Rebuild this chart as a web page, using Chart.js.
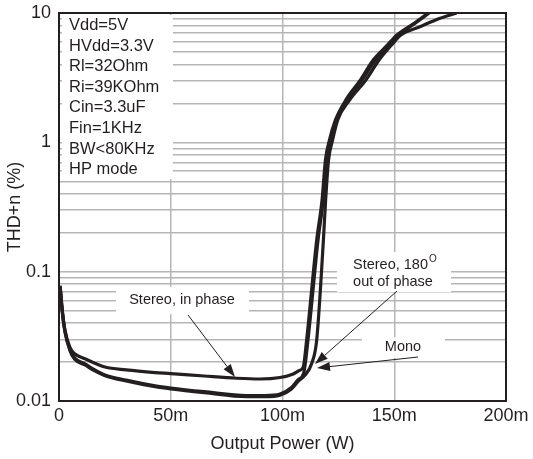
<!DOCTYPE html>
<html>
<head>
<meta charset="utf-8">
<script src="https://cdn.jsdelivr.net/npm/chart.js@4/dist/chart.umd.min.js"></script>
<style>
  html, body { margin: 0; padding: 0; background: #ffffff; }
  #wrap { width: 533px; height: 459px; }
</style>
</head>
<body>
<div id="wrap"><canvas id="thd"></canvas></div>
<script>
// output power in mW, THD+n in %
const powerInPhase = [0.5, 1.5, 2.7, 4.9, 7, 11.6, 16, 20.6, 30, 43, 50, 65, 79.5, 90, 98.9, 104.8, 107.5, 109.3, 110.8, 115.3, 117.7, 119.2, 121, 123.7, 128.3, 134.8, 140.6, 147, 151.2, 158.4, 165.2];
const thdInPhase   = [0.078, 0.05, 0.035, 0.026, 0.0232, 0.0212, 0.0196, 0.0183, 0.0174, 0.0166, 0.0163, 0.0156, 0.015, 0.0148, 0.0152, 0.0162, 0.0172, 0.0184, 0.0296, 0.1756, 0.358, 0.729, 1.04, 1.49, 2.12, 3.03, 4.33, 5.66, 6.76, 8.22, 10];

const powerOutPhase = [0.5, 1.5, 2.7, 4.9, 7, 11.6, 16, 20.6, 30, 43, 50, 65, 84, 92, 98.9, 104, 107, 110, 113.1, 115.3, 118.3, 119.3, 120.6, 122.4, 124.7, 130, 137.3, 143.2, 148.8, 153, 161.5, 170.5, 177.9];
const thdOutPhase   = [0.076, 0.048, 0.034, 0.0245, 0.021, 0.019, 0.0171, 0.0157, 0.0143, 0.0129, 0.0124, 0.0116, 0.0108, 0.0108, 0.0111, 0.0124, 0.0142, 0.0158, 0.0196, 0.0296, 0.1756, 0.358, 0.729, 1.04, 1.49, 2.12, 3.03, 4.33, 5.66, 6.76, 7.83, 9.1, 10];

const powerMono = [0.5, 1.5, 2.7, 4.9, 7, 11.6, 16, 20.6, 30, 43, 50, 65, 84, 92, 98.9, 104, 107, 109.5, 111.4, 115.9, 118.2, 119.6, 121.5, 124, 129, 135.6, 141.6, 147.8, 152, 158.9, 165.6];
const thdMono   = [0.077, 0.049, 0.0345, 0.025, 0.0215, 0.0194, 0.0174, 0.0159, 0.0145, 0.0131, 0.0126, 0.0118, 0.011, 0.011, 0.0113, 0.0127, 0.0146, 0.0165, 0.0296, 0.1756, 0.358, 0.729, 1.04, 1.49, 2.12, 3.03, 4.33, 5.66, 6.76, 8.22, 10];

const seriesNames = ['Stereo, in phase', 'Stereo, 180 out of phase', 'Mono'];
const xTickLabels = ['0', '50m', '100m', '150m', '200m'];
const yTickLabels = ['0.01', '0.1', '1', '10'];
const conditions = ['Vdd=5V', 'HVdd=3.3V', 'Rl=32Ohm', 'Ri=39KOhm', 'Cin=3.3uF', 'Fin=1KHz', 'BW<80KHz', 'HP mode'];

const ink = '#231f20';
const FONT = '"Liberation Sans", Arial, sans-serif';

// minor log grid: 1..9 in each decade
const yGrid = [];
[0.01, 0.1, 1].forEach(d => { for (let k = 1; k <= 9; k++) yGrid.push(+(d * k).toPrecision(3)); });
yGrid.push(10);

function pts(xs, ys) { return xs.map((x, i) => ({ x: x, y: ys[i] })); }

function arrow(ctx, x1, y1, x2, y2) {
  const a = Math.atan2(y2 - y1, x2 - x1);
  const len = 13, w = 4.5;
  ctx.beginPath();
  ctx.moveTo(x1, y1);
  ctx.lineTo(x2 - Math.cos(a) * len, y2 - Math.sin(a) * len);
  ctx.lineWidth = 1;
  ctx.strokeStyle = ink;
  ctx.stroke();
  ctx.beginPath();
  ctx.moveTo(x2, y2);
  ctx.lineTo(x2 - Math.cos(a) * len - Math.sin(a) * w, y2 - Math.sin(a) * len + Math.cos(a) * w);
  ctx.lineTo(x2 - Math.cos(a) * len + Math.sin(a) * w, y2 - Math.sin(a) * len - Math.cos(a) * w);
  ctx.closePath();
  ctx.fillStyle = ink;
  ctx.fill();
}

const notes = {
  id: 'notes',
  beforeDatasetsDraw(chart) {
    const ctx = chart.ctx;
    ctx.save();
    ctx.fillStyle = '#ffffff';
    ctx.fillRect(62, 15, 111, 164);   // conditions box
    ctx.fillRect(116, 287, 133, 27);  // in phase label
    ctx.fillRect(337, 252, 114, 40);  // out of phase label
    ctx.fillRect(362, 337, 83, 21);   // mono label

    ctx.fillStyle = ink;
    ctx.textBaseline = 'middle';
    ctx.textAlign = 'left';
    ctx.font = '16.5px ' + FONT;
    conditions.forEach((t, i) => ctx.fillText(t, 69, 25.5 + i * 20.6));

    ctx.font = '14.5px ' + FONT;
    ctx.textAlign = 'center';
    ctx.fillText(seriesNames[0], 182, 300);
    ctx.fillText('out of phase', 393, 282);
    ctx.fillText(seriesNames[2], 403, 347);
    ctx.textAlign = 'left';
    const head = 'Stereo, 180';
    ctx.fillText(head, 353, 265);
    const w = ctx.measureText(head).width;
    ctx.font = '10px ' + FONT;
    ctx.fillText('O', 353 + w + 1, 259);
    ctx.restore();
  },
  afterDatasetsDraw(chart) {
    const ctx = chart.ctx;
    const a = chart.chartArea;
    ctx.save();
    arrow(ctx, 188, 315, 235, 377);
    arrow(ctx, 397, 291, 315, 364);
    arrow(ctx, 418, 357, 317, 368);
    ctx.strokeStyle = ink;
    ctx.lineWidth = 2;
    ctx.strokeRect(a.left, a.top, a.right - a.left, a.bottom - a.top);
    ctx.restore();
  }
};

const lineStyle = { borderColor: ink, borderWidth: 3.2, pointRadius: 0, fill: false, cubicInterpolationMode: 'monotone' };

new Chart(document.getElementById('thd'), {
  type: 'line',
  data: {
    datasets: [
      Object.assign({ label: seriesNames[0], data: pts(powerInPhase, thdInPhase) }, lineStyle),
      Object.assign({ label: seriesNames[1], data: pts(powerOutPhase, thdOutPhase) }, lineStyle),
      Object.assign({ label: seriesNames[2], data: pts(powerMono, thdMono) }, lineStyle)
    ]
  },
  options: {
    responsive: true,
    maintainAspectRatio: false,
    animation: false,
    layout: { padding: { top: 13, right: 27, left: 0, bottom: 0 } },
    plugins: { legend: { display: false }, tooltip: { enabled: false } },
    scales: {
      x: {
        type: 'linear',
        min: 0,
        max: 200,
        afterFit(s) { s.height = 58; s.paddingLeft = 0; s.paddingRight = 0; },
        grid: { color: '#b5b5b5', lineWidth: 1.5, tickLength: 0, drawTicks: false },
        border: { display: true, color: ink, width: 2 },
        ticks: {
          stepSize: 50,
          padding: 4,
          color: ink,
          font: { family: FONT, size: 18 },
          callback: (v) => xTickLabels[v / 50]
        },
        title: {
          display: true,
          text: 'Output Power (W)',
          color: ink,
          font: { family: FONT, size: 18 },
          padding: { top: 4 }
        }
      },
      y: {
        type: 'logarithmic',
        min: 0.01,
        max: 10,
        afterFit(s) { s.width = 59; s.paddingTop = 0; s.paddingBottom = 0; },
        afterBuildTicks(s) { s.ticks = yGrid.map(v => ({ value: v })); },
        grid: { color: '#b5b5b5', lineWidth: 1.5, drawTicks: false },
        border: { display: true, color: ink, width: 2 },
        ticks: {
          autoSkip: false,
          padding: 8,
          color: ink,
          font: { family: FONT, size: 18 },
          callback: (v) => {
            const e = Math.log10(v);
            return Math.abs(e - Math.round(e)) < 1e-6 ? yTickLabels[Math.round(e) + 2] : '';
          }
        },
        title: {
          display: true,
          text: 'THD+n (%)',
          color: ink,
          font: { family: FONT, size: 18 },
          padding: { bottom: 6 }
        }
      }
    }
  },
  plugins: [notes]
});
</script>
</body>
</html>
